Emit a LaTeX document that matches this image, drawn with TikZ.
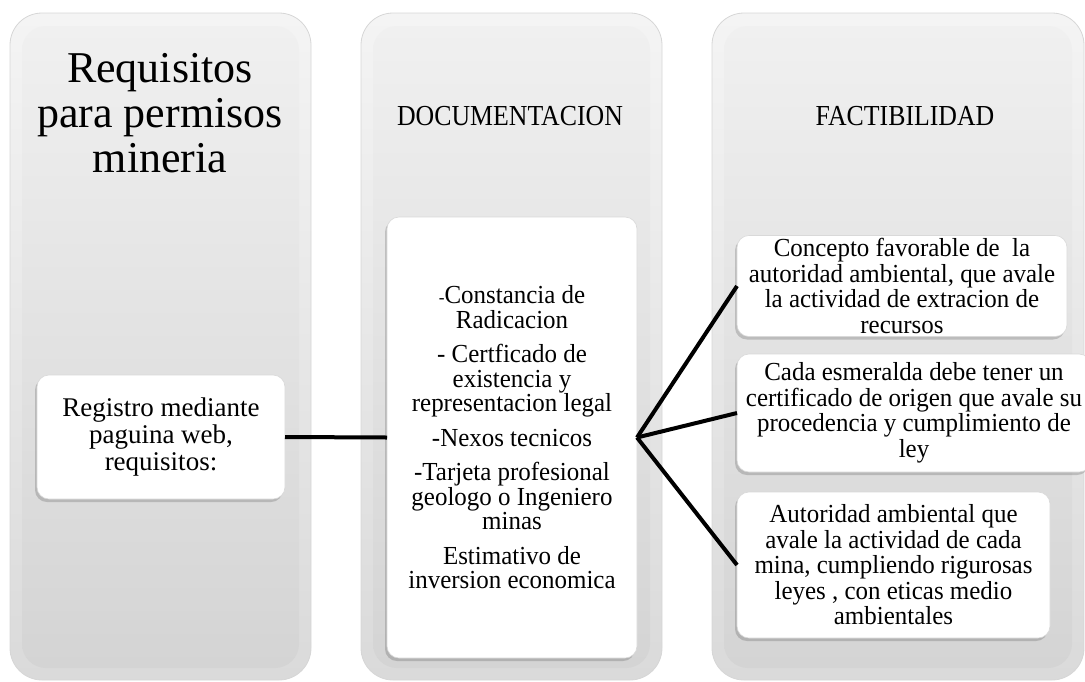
\documentclass[tikz,border=0pt]{standalone}
\usepackage{fontspec}
\setmainfont{Liberation Serif}
\newfontfamily\bodyf{Liberation Serif}[FakeStretch=0.96]
\newfontfamily\headf{Liberation Serif}[FakeStretch=0.89]
\newfontfamily\regf{Liberation Serif}
\usetikzlibrary{shadows}
\definecolor{coltop}{HTML}{F4F4F4}
\definecolor{colbot}{HTML}{DADADA}
\definecolor{intop}{HTML}{F0F0F0}
\definecolor{inbot}{HTML}{D4D4D4}
\definecolor{colline}{HTML}{D6D6D6}
\tikzset{
  colbox/.style={draw=colline, line width=0.8pt, rounded corners=32pt, top color=coltop, bottom color=colbot},
  colinner/.style={rounded corners=24pt, top color=intop, bottom color=inbot},
  whitebox/.style={draw=gray!30, line width=0.6pt, fill=white, rounded corners=12pt,
    drop shadow={shadow xshift=-2pt, shadow yshift=-3pt, opacity=0.25, fill=black!70},
    align=center, inner sep=3pt, outer sep=0pt, text=black},
  bodytext/.style={font=\bodyf\fontsize{26}{25.5}\selectfont},
  headtext/.style={font=\headf\fontsize{29}{32}\selectfont, anchor=base, inner sep=0pt},
  conn/.style={line width=4pt, black}
}
\begin{document}
\begin{tikzpicture}[x=1pt,y=-1pt]
\useasboundingbox (0,0) rectangle (1085,681);
% columns
\path[colbox] (10,13) rectangle (311,680);
\path[colinner] (22,26) rectangle (299,668);
\path[colbox] (361,13) rectangle (662,680);
\path[colinner] (373,26) rectangle (650,668);
\path[colbox] (712,13) rectangle (1084,680);
\path[colinner] (724,26) rectangle (1072,668);
% headings
\node[align=center, inner sep=0pt, font=\fontsize{44}{45}\selectfont] (title) at (160,113)
  {Requisitos\\para permisos\\mineria};
\node[headtext] (hdoc) at (510,125) {DOCUMENTACION};
\node[headtext] (hfac) at (905,125) {FACTIBILIDAD};
% boxes
\node[whitebox, minimum width=248pt, minimum height=124pt,
  font=\regf\fontsize{27}{27}\selectfont] (reg) at (161,437)
  {Registro mediante\\paguina web,\\requisitos:};
\node[whitebox, bodytext, font=\bodyf\fontsize{26}{24.5}\selectfont,
  minimum width=250pt, minimum height=441pt] (doc) at (512,437.5)
  {{\fontsize{18}{20}\selectfont -}Constancia de\\Radicacion\\[10pt]
   - Certficado de\\existencia y\\representacion legal\\[10pt]
   -Nexos tecnicos\\[10pt]
   -Tarjeta profesional\\geologo o Ingeniero\\minas\\[10pt]
   Estimativo de\\inversion economica};
\node[whitebox, bodytext, minimum width=330pt, minimum height=95pt] (fa) at (902,286)
  {Concepto favorable de\ \ la\\autoridad ambiental, que avale\\la actividad de extracion de\\recursos};
\node[whitebox, bodytext, minimum width=354pt, minimum height=118pt] (fb) at (914,413)
  {Cada esmeralda debe tener un\\certificado de origen que avale su\\procedencia y cumplimiento de\\ley};
\node[whitebox, bodytext, minimum width=313pt, minimum height=146pt] (fc) at (893.5,565)
  {Autoridad ambiental que\\avale la actividad de cada\\mina, cumpliendo rigurosas\\leyes , con eticas medio\\ambientales};
% connectors
\draw[conn] (reg.east) -- (doc.west);
\draw[conn] (doc.east) -- (fa.west);
\draw[conn] (doc.east) -- (fb.west);
\draw[conn] (doc.east) -- (fc.west);
\end{tikzpicture}
\end{document}
